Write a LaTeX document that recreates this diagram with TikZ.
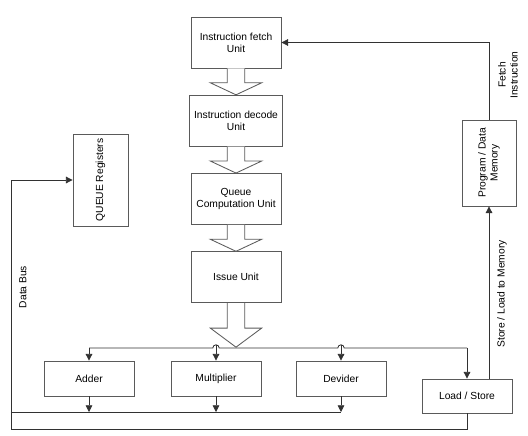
\documentclass[tikz,border=0pt]{standalone}
\usepackage{fontspec}
\setmainfont{Liberation Sans}
\usepackage{tikz}
\usetikzlibrary{arrows.meta, positioning, calc}
\definecolor{mydark}{RGB}{50,50,50}
\definecolor{myedge}{RGB}{90,90,90}
\tikzset{
  block/.style={rectangle, draw=myedge, fill=white,
    minimum width=2.25cm, minimum height=1.275cm, align=center,
    font=\fontsize{7.3}{8.6}\selectfont, line width=0.6pt},
  unit/.style={block, minimum height=0.875cm},
  tallblock/.style={block, rotate=90, minimum width=2.15cm, minimum height=1.375cm},
  hollow/.style={draw=myedge, fill=white, line width=0.6pt},
  arrow/.style={-{Triangle[length=4.8pt, width=4.8pt]}, line width=0.6pt, color=mydark},
  line/.style={line width=0.6pt, color=mydark},
  lbl/.style={font=\fontsize{7.3}{8.6}\selectfont, align=center, rotate=90}
}
% hollow block arrow pointing down: start, shaft length, head length
\newcommand{\fatarrow}[3]{%
  \draw[hollow] ($(#1)+(-0.22,0)$) -- ++(0,-#2) -- ++(-0.42,0) -- ($(#1)+(0,-#2-#3)$)
    -- ($(#1)+(0.64,-#2)$) -- ++(-0.42,0) -- ++(0,#2);}

\begin{document}
\begin{tikzpicture}
  \useasboundingbox (0,0) rectangle (13.2,10.875);

  % Pipeline
  \node[block] (fetch) at (5.9, 9.8125) {Instruction fetch\\Unit};
  \node[block, below=0.66cm of fetch] (decode) {Instruction decode\\Unit};
  \node[block, below=0.66cm of decode] (qcu) {Queue\\Computation Unit};
  \node[block, below=0.66cm of qcu] (issue) {Issue Unit};

  \fatarrow{fetch.south}{0.36}{0.3}
  \fatarrow{decode.south}{0.36}{0.3}
  \fatarrow{qcu.south}{0.36}{0.3}
  \fatarrow{issue.south}{0.625}{0.475}

  % Execution units
  \node[unit] (add) at (2.225, 1.4125) {Adder};
  \node[unit] (mul) at (5.4, 1.4125) {Multiplier};
  \node[unit] (div) at (8.525, 1.4125) {Devider};
  \node[unit, minimum height=0.85cm] (ls) at (11.675, 0.975) {Load / Store};

  % Side boxes
  \node[tallblock] (qreg) at (2.5125, 6.375) {QUEUE Registers};
  \node[tallblock, minimum height=1.35cm] (mem) at (12.225, 6.8) {Program / Data\\Memory};

  % Issue bus
  \coordinate (bus) at (0, 2.175);
  \draw[line] (add.north |- bus) -- ($(mul.north |- bus)+(-0.08,0)$) arc (180:0:0.08)
    -- ($(div.north |- bus)+(-0.08,0)$) arc (180:0:0.08) -- (ls.north |- bus);
  \draw[arrow] (add.north |- bus) -- (add.north);
  \draw[arrow] ($(mul.north |- bus)+(0,0.08)$) -- (mul.north);
  \draw[arrow] ($(div.north |- bus)+(0,0.08)$) -- (div.north);
  \draw[arrow] (ls.north |- bus) -- (ls.north);

  % Results and data bus
  \coordinate (res_l) at (0.275, 0.575);
  \coordinate (data_l) at (0.275, 0.15);
  \draw[line] (res_l) -- (res_l -| div.south);
  \foreach \n in {add, mul, div}
    \draw[arrow] (\n.south) -- (\n.south |- res_l);
  \draw[arrow] (ls.south) |- (data_l) |- (qreg.north);

  % Memory paths
  \draw[arrow] (ls.north -| mem.west) -- (mem.west);
  \draw[arrow] (mem.east) |- (fetch.east);

  % Labels
  \node[lbl] (fetch_lbl) at (12.7, 9.0) {Fetch\\Instruction};
  \node[lbl] (store_lbl) at (12.55, 3.525) {Store / Load to Memory};
  \node[lbl] (bus_lbl) at (0.575, 3.7) {Data Bus};
\end{tikzpicture}
\end{document}
